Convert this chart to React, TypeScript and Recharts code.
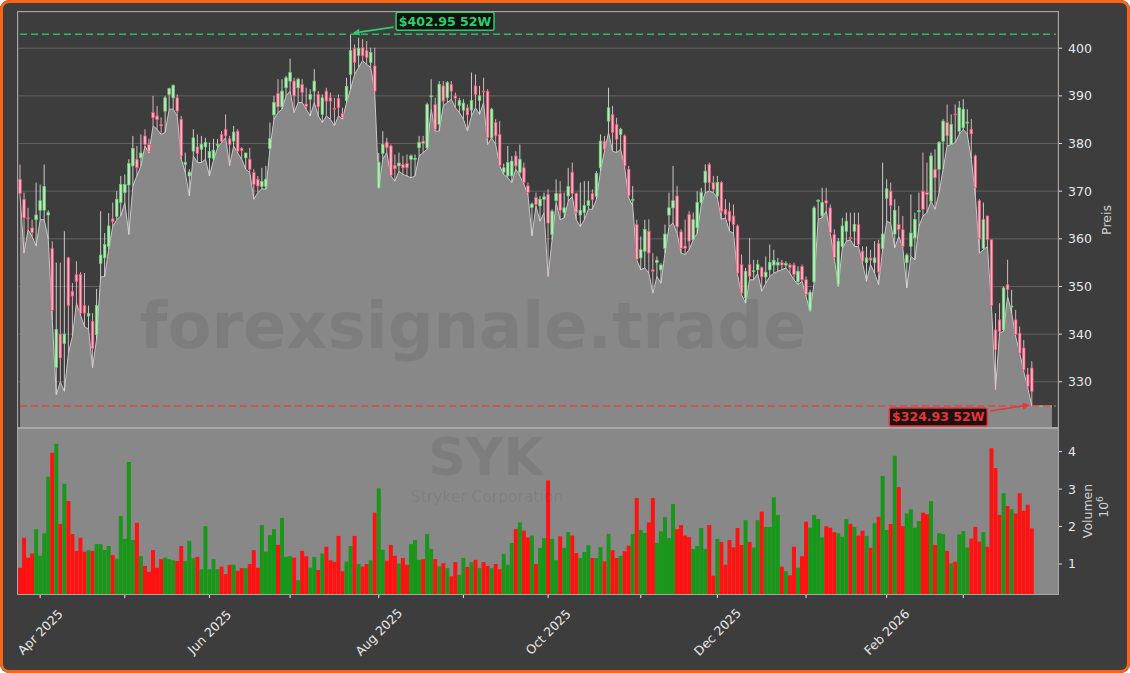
import React from "react";
import { Area, Bar, CartesianGrid, Cell, ComposedChart, Line, XAxis, YAxis } from "recharts";

// SYK daily candles, 25 Mar 2025 .. 26 Mar 2026
const OPEN = [
  372.5, 368.3, 364.4, 362.3, 364.0, 366.0, 366.0, 365.0, 358.0, 333.0,
  340.0, 338.0, 356.0, 349.0, 352.5, 352.5, 346.0, 343.8, 342.7, 339.9,
  354.8, 356.0, 358.4, 364.2, 364.7, 367.6, 369.7, 371.3, 375.3, 376.7,
  377.0, 381.6, 379.8, 386.5, 385.8, 384.0, 386.8, 390.3, 389.6, 389.6,
  385.1, 375.6, 373.2, 378.4, 379.3, 378.8, 379.3, 377.0, 376.9, 379.6,
  381.9, 383.0, 381.0, 380.5, 382.6, 379.0, 377.0, 376.7, 373.9, 372.5,
  371.0, 371.0, 379.0, 386.0, 390.5, 387.7, 391.7, 393.1, 393.1, 391.7,
  392.4, 388.3, 389.3, 391.0, 390.3, 386.1, 391.0, 389.6, 387.4, 389.5,
  386.3, 389.0, 394.5, 400.0, 398.5, 400.1, 399.5, 397.0, 396.3, 370.7,
  377.9, 380.3, 379.5, 375.4, 375.3, 375.6, 375.8, 376.7, 376.8, 379.1,
  380.5, 379.1, 389.8, 388.2, 384.0, 392.1, 389.6, 392.4, 390.0, 388.0,
  387.0, 387.5, 387.0, 392.1, 389.0, 391.0, 391.0, 381.2, 384.4, 381.9,
  374.0, 373.2, 373.2, 377.4, 373.9, 374.9, 371.1, 366.6, 368.7, 366.9,
  368.3, 369.3, 360.9, 368.0, 369.5, 365.5, 369.0, 374.0, 369.5, 365.0,
  365.5, 367.0, 369.5, 368.9, 374.9, 380.5, 384.7, 386.1, 384.0, 381.9,
  381.6, 374.6, 368.2, 363.0, 356.0, 357.4, 361.6, 353.5, 355.0, 353.5,
  358.0, 365.0, 366.5, 369.0, 361.5, 358.5, 365.1, 359.8, 362.3, 367.6,
  371.8, 375.6, 371.8, 369.0, 371.8, 366.2, 365.8, 364.8, 362.7, 354.6,
  347.6, 354.6, 353.2, 353.5, 354.0, 352.0, 353.5, 354.5, 354.5, 355.0,
  354.5, 354.5, 354.5, 351.0, 354.2, 351.4, 345.1, 351.0, 367.9, 364.8,
  368.0, 366.5, 360.9, 350.4, 358.4, 361.6, 360.3, 361.6, 363.0, 357.4,
  355.0, 356.0, 355.0, 359.0, 358.0, 368.5, 370.0, 361.0, 363.0, 361.9,
  355.0, 358.4, 360.2, 365.8, 370.0, 369.7, 367.9, 374.6, 374.6, 380.5,
  384.4, 379.8, 386.2, 382.6, 383.3, 384.4, 383.0, 377.4, 368.0, 358.0,
  364.8, 359.8, 340.9, 343.0, 340.9, 350.4, 345.8, 343.0, 340.2, 337.1,
  331.5, 332.9,
];
const HIGH = [
  375.6, 369.7, 366.5, 364.0, 371.8, 371.4, 375.6, 366.0, 359.5, 355.0,
  355.0, 361.6, 356.2, 350.7, 355.3, 353.0, 352.8, 346.0, 344.4, 349.5,
  365.8, 361.2, 365.4, 367.6, 370.0, 373.2, 373.5, 376.7, 381.6, 379.5,
  381.9, 383.0, 381.0, 390.0, 387.9, 385.5, 390.0, 391.7, 392.4, 390.3,
  385.8, 378.1, 374.6, 383.0, 381.9, 381.6, 381.2, 380.2, 381.0, 380.9,
  382.6, 386.1, 381.6, 383.7, 383.0, 379.2, 378.1, 379.1, 374.6, 373.2,
  374.9, 375.3, 384.4, 390.0, 393.5, 393.5, 394.2, 397.8, 393.8, 393.8,
  393.5, 391.7, 391.4, 395.6, 391.0, 390.3, 391.7, 390.7, 389.6, 390.3,
  387.5, 393.8, 402.95, 400.8, 402.2, 401.9, 401.5, 400.1, 400.1, 378.0,
  382.6, 381.2, 379.8, 377.7, 378.1, 377.4, 377.7, 377.7, 377.7, 381.6,
  381.6, 388.6, 393.5, 389.6, 393.1, 393.1, 393.1, 393.1, 390.7, 389.6,
  389.3, 388.2, 394.9, 394.5, 392.1, 393.8, 391.4, 387.5, 385.1, 384.7,
  375.8, 379.5, 377.4, 378.4, 379.8, 376.0, 371.8, 367.6, 369.7, 369.0,
  369.7, 370.4, 366.2, 372.5, 372.1, 369.7, 374.9, 376.0, 369.7, 371.8,
  372.1, 372.1, 370.4, 374.2, 381.9, 381.6, 391.7, 387.9, 385.4, 383.3,
  381.9, 375.3, 371.1, 364.0, 360.5, 364.0, 364.1, 357.0, 356.3, 354.9,
  363.0, 369.7, 375.3, 371.1, 362.0, 364.0, 365.8, 365.5, 370.0, 370.7,
  375.6, 376.0, 373.2, 373.2, 372.1, 368.3, 367.6, 367.2, 363.0, 356.7,
  353.9, 360.2, 355.6, 355.6, 354.2, 356.3, 358.8, 357.7, 356.0, 355.6,
  355.3, 354.9, 355.0, 354.2, 354.6, 352.1, 349.3, 366.9, 368.3, 370.7,
  370.7, 367.2, 362.0, 360.2, 364.4, 365.5, 365.5, 365.5, 365.5, 358.4,
  358.4, 357.7, 359.5, 359.8, 376.0, 372.5, 371.8, 368.3, 366.9, 364.8,
  357.0, 369.3, 365.5, 369.7, 378.1, 376.0, 378.1, 378.8, 380.5, 385.1,
  388.2, 386.1, 388.2, 388.9, 389.3, 387.2, 385.1, 377.7, 368.3, 367.6,
  364.8, 359.8, 344.4, 346.5, 350.0, 355.6, 349.3, 345.1, 341.6, 338.8,
  332.9, 334.3,
];
const LOW = [
  369.0, 357.0, 361.9, 360.5, 358.5, 364.0, 364.0, 360.0, 343.0, 327.3,
  330.0, 328.0, 336.0, 339.5, 346.5, 344.0, 341.6, 341.0, 332.9, 339.0,
  352.0, 352.1, 357.8, 362.6, 364.0, 364.8, 367.6, 360.9, 371.1, 373.2,
  375.3, 379.5, 378.0, 383.7, 383.0, 381.9, 382.3, 387.2, 387.2, 385.8,
  376.7, 373.9, 369.0, 377.4, 376.0, 376.0, 376.7, 373.2, 376.5, 379.1,
  380.2, 381.2, 375.3, 379.5, 378.0, 376.7, 374.6, 373.9, 368.3, 369.7,
  370.5, 370.4, 378.8, 385.1, 386.5, 387.2, 390.0, 391.0, 386.5, 388.6,
  388.6, 387.2, 385.8, 388.6, 385.8, 384.4, 385.8, 385.1, 383.7, 385.8,
  385.1, 388.6, 391.4, 394.5, 396.0, 397.4, 396.6, 396.0, 390.7, 370.6,
  376.7, 378.1, 373.2, 372.1, 374.2, 373.5, 373.2, 372.8, 373.2, 377.4,
  378.1, 378.8, 387.2, 382.6, 382.6, 387.9, 388.6, 389.3, 387.5, 386.5,
  385.1, 382.6, 385.8, 387.5, 386.1, 388.6, 379.8, 381.2, 379.8, 375.3,
  373.5, 372.8, 371.8, 374.6, 373.2, 371.4, 369.3, 360.6, 366.9, 363.7,
  365.5, 352.1, 359.8, 367.6, 364.0, 364.4, 367.9, 368.9, 364.0, 362.6,
  364.0, 366.2, 366.2, 368.3, 374.2, 378.4, 382.3, 378.4, 378.1, 378.8,
  375.0, 368.6, 366.9, 355.6, 353.5, 353.9, 352.8, 348.6, 352.1, 350.7,
  357.0, 362.6, 363.3, 361.2, 357.0, 356.7, 357.7, 359.8, 361.2, 367.2,
  369.7, 370.0, 369.7, 368.6, 364.1, 364.4, 361.6, 361.2, 352.5, 348.3,
  346.5, 351.4, 351.4, 352.8, 349.0, 350.7, 352.1, 352.8, 353.2, 353.5,
  353.9, 352.8, 351.4, 350.4, 351.1, 347.9, 344.8, 350.7, 364.1, 364.4,
  365.8, 361.2, 356.0, 350.0, 358.0, 359.5, 359.8, 358.4, 358.4, 354.9,
  351.1, 354.6, 352.8, 350.4, 357.7, 363.7, 363.3, 358.1, 360.5, 358.1,
  349.7, 356.3, 355.6, 362.6, 364.8, 365.5, 367.9, 366.2, 369.7, 374.6,
  379.5, 379.8, 380.2, 381.9, 383.0, 381.9, 376.7, 369.0, 357.0, 357.7,
  358.4, 345.8, 328.3, 340.2, 340.6, 347.9, 344.4, 339.5, 336.0, 332.2,
  328.7, 324.93,
];
const CLOSE = [
  369.5, 364.4, 364.2, 361.3, 365.0, 368.0, 371.0, 365.5, 345.0, 341.0,
  335.0, 340.0, 346.0, 348.0, 351.0, 344.4, 344.4, 344.3, 337.0, 346.0,
  356.6, 358.8, 362.7, 363.6, 368.3, 371.4, 371.4, 375.8, 379.0, 374.9,
  378.0, 379.8, 378.4, 385.4, 385.0, 383.7, 389.6, 391.5, 392.2, 386.8,
  377.4, 376.0, 374.0, 381.2, 377.9, 379.8, 380.2, 378.3, 378.6, 379.8,
  380.5, 381.6, 379.8, 382.4, 378.4, 378.5, 378.0, 374.6, 371.4, 371.1,
  372.0, 372.5, 381.0, 388.6, 387.7, 391.0, 393.8, 394.9, 390.0, 393.5,
  390.7, 387.8, 390.3, 393.1, 387.7, 389.6, 388.9, 388.9, 387.3, 387.5,
  385.5, 392.0, 399.5, 397.0, 400.0, 398.4, 398.0, 399.1, 391.0, 376.1,
  379.8, 379.1, 373.3, 374.7, 375.9, 374.9, 374.9, 377.4, 376.9, 380.2,
  380.0, 388.2, 390.0, 383.0, 392.4, 388.9, 392.8, 391.0, 389.5, 389.0,
  388.5, 386.0, 389.0, 390.3, 390.0, 390.9, 381.2, 387.2, 381.6, 375.4,
  374.9, 376.0, 376.3, 375.3, 376.7, 371.8, 369.7, 367.3, 367.2, 368.3,
  368.8, 363.3, 365.8, 369.5, 366.0, 366.5, 371.0, 369.5, 365.5, 366.0,
  367.0, 368.0, 368.2, 373.7, 380.5, 378.8, 387.5, 382.3, 380.9, 383.0,
  375.3, 369.0, 368.3, 355.7, 357.7, 362.0, 357.0, 353.2, 355.5, 354.5,
  361.0, 366.5, 368.0, 362.5, 358.0, 358.0, 359.5, 364.0, 367.6, 369.7,
  374.2, 371.8, 370.4, 371.8, 365.8, 365.1, 363.7, 363.0, 352.8, 348.6,
  353.2, 352.1, 353.3, 354.6, 352.0, 353.0, 355.0, 355.5, 355.0, 354.5,
  354.8, 354.0, 352.5, 353.2, 351.4, 348.3, 348.8, 366.5, 368.1, 367.6,
  367.5, 361.3, 356.1, 359.5, 362.7, 363.7, 360.2, 363.0, 358.8, 355.3,
  356.0, 355.5, 356.0, 353.0, 361.0, 370.5, 367.0, 366.0, 362.0, 358.4,
  356.6, 361.2, 364.1, 365.9, 366.2, 369.3, 377.4, 372.8, 380.2, 384.7,
  381.6, 384.0, 386.1, 387.5, 387.2, 384.5, 382.0, 370.7, 360.0, 364.0,
  359.8, 346.0, 336.7, 340.5, 349.7, 349.3, 345.9, 339.9, 336.0, 332.5,
  329.0, 327.9,
];
// volume in millions of shares
const VOLUME = [
  0.90, 1.70, 1.17, 1.28, 1.93, 1.22, 1.82, 3.33, 3.97, 4.21,
  2.07, 3.14, 2.68, 1.80, 1.35, 1.70, 1.33, 1.37, 1.35, 1.53,
  1.53, 1.37, 1.48, 1.24, 1.14, 2.28, 1.67, 3.72, 1.64, 2.10,
  1.21, 0.95, 0.79, 1.37, 0.90, 1.13, 1.17, 1.13, 1.10, 1.08,
  1.48, 1.08, 1.62, 1.15, 1.19, 0.86, 2.01, 0.86, 1.13, 0.86,
  0.93, 0.73, 0.98, 0.98, 0.82, 0.89, 0.89, 1.00, 1.37, 0.90,
  2.04, 1.33, 1.77, 1.93, 1.51, 2.23, 1.19, 1.21, 1.17, 0.57,
  1.35, 1.21, 0.90, 1.19, 0.84, 1.28, 1.46, 1.10, 1.06, 1.75,
  0.81, 1.06, 1.48, 1.75, 1.00, 0.93, 1.00, 1.10, 2.37, 3.02,
  1.38, 1.09, 1.51, 1.22, 1.01, 1.16, 0.98, 1.53, 1.64, 1.11,
  1.13, 1.80, 1.40, 1.13, 0.94, 1.02, 0.89, 0.67, 1.05, 0.71,
  1.16, 0.92, 1.05, 1.11, 0.89, 1.05, 0.95, 0.89, 1.00, 0.86,
  1.27, 0.98, 1.56, 1.93, 2.11, 1.89, 1.71, 1.76, 1.00, 1.43,
  1.69, 3.23, 1.67, 1.10, 1.74, 1.43, 1.85, 1.76, 1.29, 1.16,
  1.32, 1.50, 1.16, 1.16, 1.45, 1.07, 1.80, 1.37, 1.16, 1.22,
  1.34, 1.49, 1.80, 2.76, 1.91, 1.83, 2.11, 2.76, 1.56, 1.87,
  2.25, 1.69, 2.60, 1.93, 2.04, 1.76, 1.72, 1.40, 1.48, 1.96,
  1.40, 2.04, 0.69, 1.67, 1.59, 0.98, 1.64, 1.45, 1.96, 1.51,
  2.17, 1.59, 1.44, 2.17, 2.40, 1.99, 1.99, 2.78, 2.31, 0.93,
  0.81, 0.70, 1.46, 0.90, 1.21, 2.13, 1.97, 2.31, 2.20, 1.71,
  2.01, 1.97, 1.85, 1.82, 1.73, 2.20, 2.07, 1.99, 1.76, 1.89,
  1.75, 1.43, 2.09, 2.26, 3.35, 1.91, 2.07, 3.89, 3.05, 2.01,
  2.35, 2.46, 1.97, 2.15, 2.37, 2.33, 2.68, 1.51, 1.82, 1.80,
  1.35, 1.02, 1.06, 1.79, 1.88, 1.44, 1.68, 1.99, 1.60, 1.85,
  1.46, 4.09, 3.56, 2.31, 2.89, 2.55, 2.46, 2.35, 2.89, 2.42,
  2.58, 1.95,
];

const START_DATE = "2025-03-25";
const HOLIDAYS = [
  "2025-04-18", "2025-05-26", "2025-06-19", "2025-07-04", "2025-09-01",
  "2025-11-27", "2025-12-25", "2026-01-01", "2026-01-19", "2026-02-16",
];
const PAD_DAYS = 6; // empty slots to the right of the last candle
const AREA_PAD = 5; // low-fill carries on this far past the last candle
const PRICE_TICKS = [330, 340, 350, 360, 370, 380, 390, 400];
const VOL_TICKS = [1, 2, 3, 4];
const LABELED_MONTHS: Record<string, string> = {
  "2025-04": "Apr 2025",
  "2025-06": "Jun 2025",
  "2025-08": "Aug 2025",
  "2025-10": "Oct 2025",
  "2025-12": "Dec 2025",
  "2026-02": "Feb 2026",
};

const FONT = "DejaVu Sans, Verdana, sans-serif";
const BG = "#3d3d3d";
const PANEL = "#888888";
const UP = { body: "#c4e2c4", edge: "#5ad86a", wick: "#d8dcd8" };
const DOWN = { body: "#f2b6c4", edge: "#f7476f", wick: "#e6c0c8" };
const VOL_UP = "#1a961a";
const VOL_DOWN = "#ff1212";

function tradingDays(start: string, n: number) {
  const out: string[] = [];
  const d = new Date(start + "T00:00:00Z");
  while (out.length < n) {
    const iso = d.toISOString().slice(0, 10);
    const wd = d.getUTCDay();
    if (wd !== 0 && wd !== 6 && !HOLIDAYS.includes(iso)) out.push(iso);
    d.setUTCDate(d.getUTCDate() + 1);
  }
  return out;
}

const N = CLOSE.length;
const DATES = tradingDays(START_DATE, N + PAD_DAYS);
const MONTH_TICKS = DATES.slice(1, N).filter((d, i) => d.slice(0, 7) !== DATES[i].slice(0, 7));

const HI_52 = Math.max(...HIGH);
const LO_52 = Math.min(...LOW);
const HI_IDX = HIGH.indexOf(HI_52);
const LO_IDX = LOW.indexOf(LO_52);

const priceData = DATES.map((d, i) => ({
  d,
  o: i < N ? OPEN[i] : null,
  h: i < N ? HIGH[i] : null,
  l: i < N ? LOW[i] : null,
  c: i < N ? CLOSE[i] : null,
  a: i < N ? LOW[i] : i < N + AREA_PAD ? LOW[N - 1] : null,
  hi: HI_52,
  lo: LO_52,
}));

const volData = DATES.map((d, i) => ({
  d,
  v: i < N ? VOLUME[i] : null,
  up: i < N ? CLOSE[i] >= OPEN[i] : false,
}));

function Candle(props: any) {
  const { x, y, width, height, payload } = props;
  if (!payload || payload.o == null || !isFinite(y) || !isFinite(height)) return null;
  const { o, h, l, c } = payload;
  const top = Math.min(y, y + height);
  const span = Math.abs(height);
  const k = h > l ? span / (h - l) : 0;
  const up = c >= o;
  const col = up ? UP : DOWN;
  const cx = x + width / 2;
  const yo = top + (h - o) * k;
  const yc = top + (h - c) * k;
  const by = Math.min(yo, yc);
  const bh = Math.max(Math.abs(yo - yc), 1);
  return (
    <g>
      <line x1={cx} x2={cx} y1={top} y2={top + span} stroke={col.wick} strokeWidth={0.9} />
      <rect x={cx - 1.3} y={by} width={2.6} height={bh} fill={col.body} stroke={col.edge} strokeWidth={0.7} />
    </g>
  );
}

function Arrow({ x1, y1, x2, y2, color }: any) {
  const ang = Math.atan2(y2 - y1, x2 - x1);
  const L = 7;
  const W = 3.5;
  const bx = x2 - L * Math.cos(ang);
  const by = y2 - L * Math.sin(ang);
  const px = -Math.sin(ang) * W;
  const py = Math.cos(ang) * W;
  return (
    <g>
      <line x1={x1} y1={y1} x2={bx} y2={by} stroke={color} strokeWidth={1.6} />
      <polygon points={`${x2},${y2} ${bx + px},${by + py} ${bx - px},${by - py}`} fill={color} />
    </g>
  );
}

function HiMarker(p: any) {
  if (p.index !== HI_IDX) return <g key={`hd${p.index}`} />;
  const { cx, cy } = p;
  const col = "#2ecc71";
  return (
    <g key="hi-marker">
      <Arrow x1={cx + 43} y1={cy - 7} x2={cx + 2} y2={cy - 1} color={col} />
      <rect x={cx + 45.5} y={cy - 22} width={98} height={18} rx={2} fill="#0c130e" stroke={col} strokeWidth={1.5} />
      <text x={cx + 94.5} y={cy - 8.5} textAnchor="middle" fill={col} fontSize={12.5} fontWeight="bold" fontFamily={FONT}>
        {`$${HI_52.toFixed(2)} 52W`}
      </text>
    </g>
  );
}

function LoMarker(p: any) {
  if (p.index !== LO_IDX) return <g key={`ld${p.index}`} />;
  const { cx, cy } = p;
  const col = "#e83535";
  return (
    <g key="lo-marker">
      <Arrow x1={cx - 42} y1={cy + 5} x2={cx - 2} y2={cy - 1} color={col} />
      <rect x={cx - 142.5} y={cy + 2} width={98} height={18} rx={2} fill="#1c1212" stroke={col} strokeWidth={1.5} />
      <text x={cx - 93.5} y={cy + 15.5} textAnchor="middle" fill={col} fontSize={12.5} fontWeight="bold" fontFamily={FONT}>
        {`$${LO_52.toFixed(2)} 52W`}
      </text>
    </g>
  );
}

function MonthTick(props: any) {
  const { x, y, payload } = props;
  const label = LABELED_MONTHS[String(payload.value).slice(0, 7)];
  return (
    <g>
      <line x1={x} x2={x} y1={y} y2={y + 4} stroke="#e6e6e6" strokeWidth={1} />
      {label && (
        <text
          transform={`translate(${x},${y + 38}) rotate(-45)`}
          textAnchor="middle"
          dominantBaseline="central"
          fill="#e8e8e8"
          fontSize={12.5}
          fontFamily={FONT}
        >
          {label}
        </text>
      )}
    </g>
  );
}

const yTick = { fill: "#e8e8e8", fontSize: 12.5, fontFamily: FONT };

export default function App() {
  return (
    <div style={{ position: "absolute", left: 0, top: 0, width: 1130, height: 673, background: "#fff" }}>
      <div style={{ position: "absolute", inset: 0, background: BG, borderRadius: 9, overflow: "hidden" }}>
        {/* volume panel background */}
        <div style={{ position: "absolute", left: 18, top: 428, width: 1040, height: 166, background: PANEL }} />

        <div style={{ position: "absolute", left: 0, top: 0 }}>
          <ComposedChart width={1130} height={428} data={priceData} margin={{ top: 12, right: 0, bottom: 0, left: 18 }} barCategoryGap={0}>
            <CartesianGrid stroke="#626262" strokeWidth={1} />
            <XAxis dataKey="d" ticks={MONTH_TICKS} interval={0} height={0} tick={false} tickLine={false} axisLine={false} />
            <YAxis
              orientation="right"
              width={72}
              domain={[320.3, 407.6]}
              allowDataOverflow
              ticks={PRICE_TICKS}
              tick={yTick}
              tickSize={4}
              tickMargin={6}
              tickLine={{ stroke: "#e0e0e0" }}
              axisLine={false}
            />
            <Area
              dataKey="a"
              type="linear"
              stroke="#c8c8c8"
              strokeWidth={1}
              fill={PANEL}
              fillOpacity={1}
              dot={false}
              activeDot={false}
              isAnimationActive={false}
              connectNulls={false}
            />
            <Bar dataKey={(r: any) => (r.o == null ? null : [r.l, r.h])} shape={<Candle />} isAnimationActive={false} />
            <Line dataKey="hi" stroke="#2fb865" strokeWidth={1.5} strokeDasharray="7 4" dot={HiMarker} activeDot={false} isAnimationActive={false} />
            <Line dataKey="lo" stroke="#e04545" strokeWidth={1.5} strokeDasharray="7 4" dot={LoMarker} activeDot={false} isAnimationActive={false} />
          </ComposedChart>
        </div>

        <div style={{ position: "absolute", left: 0, top: 428 }}>
          <ComposedChart width={1130} height={245} data={volData} margin={{ top: 0, right: 0, bottom: 0, left: 18 }} barCategoryGap={0}>
            <XAxis
              dataKey="d"
              ticks={MONTH_TICKS}
              interval={0}
              height={79}
              tickSize={0}
              tickMargin={0}
              tick={<MonthTick />}
              tickLine={false}
              axisLine={false}
            />
            <YAxis
              orientation="right"
              width={72}
              domain={[0.2, 4.63]}
              allowDataOverflow
              ticks={VOL_TICKS}
              tick={yTick}
              tickSize={4}
              tickMargin={6}
              tickLine={{ stroke: "#e0e0e0" }}
              axisLine={false}
            />
            <Bar dataKey="v" isAnimationActive={false}>
              {volData.map((r, i) => (
                <Cell key={i} fill={r.up ? VOL_UP : VOL_DOWN} />
              ))}
            </Bar>
          </ComposedChart>
        </div>

        {/* panel frames */}
        <div style={{ position: "absolute", left: 17, top: 11, width: 1040, height: 416, border: "1px solid #a6a6a6" }} />
        <div style={{ position: "absolute", left: 17, top: 427, width: 1040, height: 166, border: "1px solid #a6a6a6" }} />

        <svg width={1130} height={673} style={{ position: "absolute", left: 0, top: 0, pointerEvents: "none" }}>
          <g fill="#000" fillOpacity={0.075} fontFamily={FONT} fontWeight="bold" textAnchor="middle">
            <text x={473} y={348} fontSize={64}>forexsignale.trade</text>
            <text x={486} y={475} fontSize={52}>SYK</text>
            <text x={487} y={502} fontSize={15.5} fontWeight="normal">Stryker Corporation</text>
          </g>
          <g fill="#d2d2d2" fontFamily={FONT} fontSize={12.5} textAnchor="middle">
            <text transform="translate(1111,220) rotate(-90)">Preis</text>
            <text transform="translate(1092,511) rotate(-90)">Volumen</text>
            <text transform="translate(1108,507) rotate(-90)">
              10<tspan dy={-5} fontSize={9}>6</tspan>
            </text>
          </g>
        </svg>

        <div style={{ position: "absolute", inset: 0, border: "3px solid #f86418", borderRadius: 9, pointerEvents: "none" }} />
      </div>
    </div>
  );
}
